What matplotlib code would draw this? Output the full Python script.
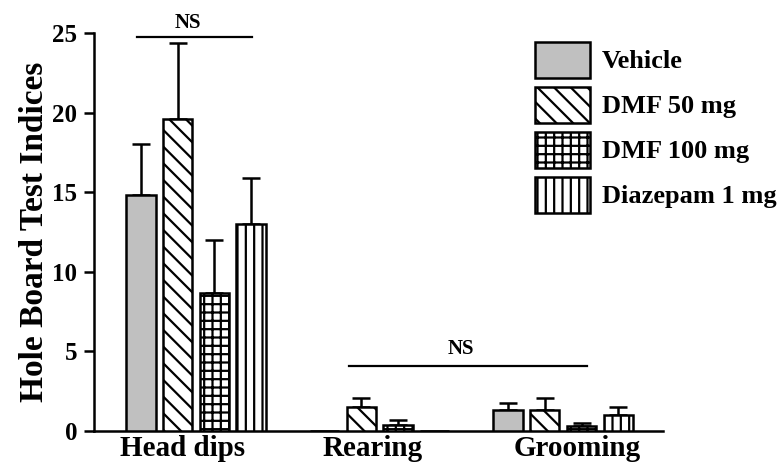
######## IMPORTS ########
import numpy as np
import matplotlib
matplotlib.use("Agg")
import matplotlib.pyplot as plt

######## DATA ########
categories = ["Head dips", "Rearing", "Grooming"]
groups = ["Vehicle", "DMF 50 mg", "DMF 100 mg", "Diazepam 1 mg"]

vehicle = [14.85, 0.0, 1.3]
dmf50 = [19.6, 1.5, 1.35]
dmf100 = [8.7, 0.4, 0.3]
diazepam = [13.0, 0.0, 1.0]

vehicle_sem = [3.15, 0.0, 0.45]
dmf50_sem = [4.8, 0.6, 0.75]
dmf100_sem = [3.3, 0.3, 0.2]
diazepam_sem = [2.9, 0.0, 0.5]

y_ticks = [0, 5, 10, 15, 20, 25]

######## STYLE ########
plt.rcParams["font.family"] = ["Liberation Serif", "DejaVu Serif"]
plt.rcParams["font.weight"] = "bold"
plt.rcParams["hatch.linewidth"] = 1.6

values = [vehicle, dmf50, dmf100, diazepam]
sems = [vehicle_sem, dmf50_sem, dmf100_sem, diazepam_sem]
colors = ["#c0c0c0", "white", "white", "white"]
hatches = [None, "\\\\", "++", "||"]
offsets = [-0.3, -0.1, 0.1, 0.3]
width = 0.16
# category labels in the original sit a bit off the group centres
label_shift = [-0.076, -0.038, 0.076]

fig = plt.figure(figsize=(7.83, 4.65), dpi=100)
ax = fig.add_axes([0.120, 0.073, 0.727, 0.856])

x = np.arange(len(categories))
for vals, err, col, h, off, lab in zip(values, sems, colors, hatches, offsets, groups):
    vals = np.array(vals)
    err = np.array(err)
    ax.bar(x + off, vals, width, color=col, edgecolor="black", linewidth=1.8,
           hatch=h, label=lab, zorder=3)
    # only upper error bars, skip empty bars
    m = vals > 0
    ax.errorbar(x[m] + off, vals[m], yerr=[np.zeros(m.sum()), err[m]], fmt="none",
                ecolor="black", elinewidth=1.8, capsize=6.5, capthick=1.8, zorder=2)

# NS lines
ax.plot([-0.32, 0.305], [24.75, 24.75], color="black", lw=1.6, clip_on=False)
ax.text(-0.044, 25.0, "NS", ha="center", va="bottom", fontsize=15, fontweight="bold")
ax.plot([0.834, 2.13], [4.1, 4.1], color="black", lw=1.6, clip_on=False)
ax.text(1.444, 4.5, "NS", ha="center", va="bottom", fontsize=15, fontweight="bold")

ax.set_xlim(-0.556, 2.545)
ax.set_ylim(0, 25)
ax.set_yticks(y_ticks)
ax.set_xticks(x + np.array(label_shift))
ax.set_xticklabels(categories, fontsize=21, fontweight="bold")
ax.tick_params(axis="x", length=0, pad=3)
ax.tick_params(axis="y", length=7, width=1.8, labelsize=18, pad=5)
for lbl in ax.get_yticklabels():
    lbl.set_fontweight("bold")

ax.spines["top"].set_visible(False)
ax.spines["right"].set_visible(False)
ax.spines["left"].set_linewidth(1.8)
ax.spines["bottom"].set_linewidth(1.8)

ax.set_ylabel("Hole Board Test Indices", fontsize=24, fontweight="bold", labelpad=2)

leg = ax.legend(loc="upper left", bbox_to_anchor=(0.683, 0.910), bbox_transform=fig.transFigure,
                frameon=False, fontsize=19, handlelength=2.08, handleheight=1.72,
                labelspacing=0.34, handletextpad=0.45, borderpad=0, borderaxespad=0)
for t in leg.get_texts():
    t.set_fontweight("bold")

fig.savefig("out.png", dpi=100)
